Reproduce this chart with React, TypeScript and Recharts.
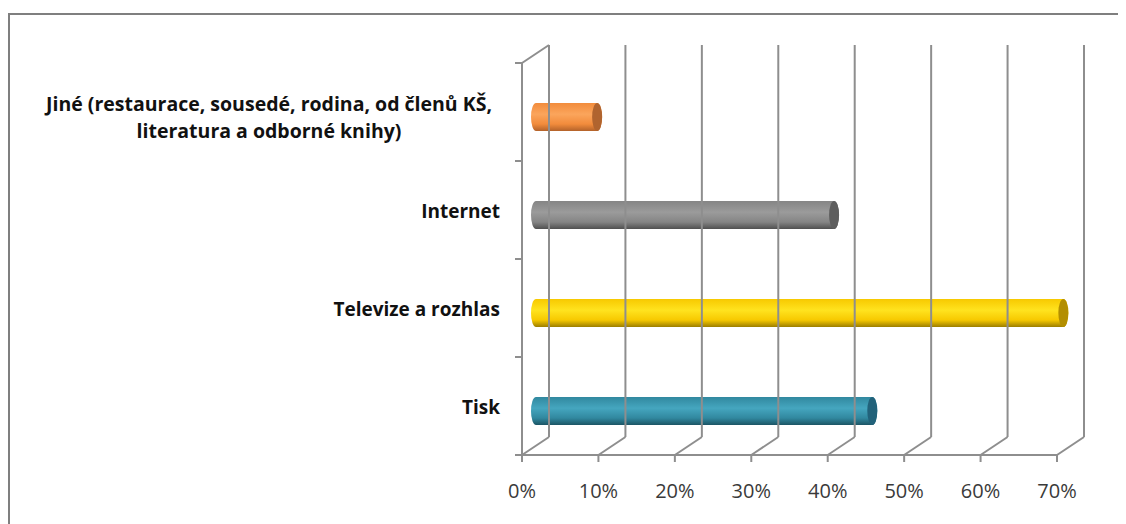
import React from "react";
import { BarChart, Bar, XAxis, YAxis } from "recharts";

const categories = [
  "Tisk",
  "Televize a rozhlas",
  "Internet",
  "Jiné (restaurace, sousedé, rodina, od členů KŠ, literatura a odborné knihy)",
];
const values = [44, 69, 39, 8];
const xTicks = [0, 10, 20, 30, 40, 50, 60, 70];

const barColors = [
  { light: "#45A6BF", mid: "#31889F", dark: "#1C5565", cap: "#22627A" },
  { light: "#FFE31F", mid: "#F7C900", dark: "#9C7E00", cap: "#B38E00" },
  { light: "#9B9B9B", mid: "#858585", dark: "#505050", cap: "#5E5E5E" },
  { light: "#FBA55C", mid: "#F28C3C", dark: "#B3622A", cap: "#B0642F" },
];

const data = categories.map((name, i) => ({ name, value: values[i] }));

const W = 1118;
const H = 516;
const margin = { top: 55, right: 69, left: 0, bottom: 19 };
const Y_AXIS_W = 514;
const X_AXIS_H = 50;
const PLOT_LEFT = margin.left + Y_AXIS_W;
const PLOT_TOP = margin.top;
const PLOT_BOTTOM = H - margin.bottom - X_AXIS_H;
const BAND = (PLOT_BOTTOM - PLOT_TOP) / categories.length;
const DX = 27;
const DY = -18;
const GRID = "#8E8E8E";
const FONT = "'Open Sans', sans-serif";

function wrap(label: string, max: number) {
  if (label.length <= max) return [label];
  const cut = label.lastIndexOf(", ", max);
  return [label.slice(0, cut + 1), label.slice(cut + 2)];
}

const XTick = (props: any) => {
  const { x, payload } = props;
  return (
    <g>
      {payload.value === 0 && (
        <>
          <line x1={PLOT_LEFT} y1={PLOT_TOP} x2={PLOT_LEFT + DX} y2={PLOT_TOP + DY} stroke={GRID} strokeWidth={2} />
          <line x1={PLOT_LEFT - 7} y1={PLOT_BOTTOM} x2={PLOT_LEFT} y2={PLOT_BOTTOM} stroke={GRID} strokeWidth={2} />
        </>
      )}
      <line x1={x} y1={PLOT_BOTTOM} x2={x} y2={PLOT_BOTTOM + 7} stroke={GRID} strokeWidth={2} />
      <line x1={x} y1={PLOT_BOTTOM} x2={x + DX} y2={PLOT_BOTTOM + DY} stroke={GRID} strokeWidth={2} />
      <line x1={x + DX} y1={PLOT_BOTTOM + DY} x2={x + DX} y2={PLOT_TOP + DY} stroke={GRID} strokeWidth={2} />
      <text x={x} y={PLOT_BOTTOM + 43} textAnchor="middle" fontFamily={FONT} fontSize={20} fill="#3A3A3A">
        {payload.value}%
      </text>
    </g>
  );
};

const YTick = (props: any) => {
  const { y, payload } = props;
  const lines = wrap(payload.value, 47);
  return (
    <g>
      <line x1={PLOT_LEFT - 7} y1={y - BAND / 2} x2={PLOT_LEFT} y2={y - BAND / 2} stroke={GRID} strokeWidth={2} />
      {lines.length === 1 ? (
        <text x={PLOT_LEFT - 22} y={y + 8} textAnchor="end" fontFamily={FONT} fontWeight={700} fontSize={19} fill="#111">
          {lines[0]}
        </text>
      ) : (
        <text x={PLOT_LEFT - 253} y={y - 1} textAnchor="middle" fontFamily={FONT} fontWeight={700} fontSize={19.5} fill="#111">
          {lines.map((l, i) => (
            <tspan key={i} x={PLOT_LEFT - 253} dy={i === 0 ? 0 : 27}>
              {l}
            </tspan>
          ))}
        </text>
      )}
    </g>
  );
};

const Cylinder = (props: any) => {
  const { x, y, width, height, index } = props;
  const c = barColors[index];
  const x0 = x + 14;
  const x1 = x0 + width;
  const top = y + 5;
  const bottom = top + height;
  const ry = height / 2;
  const rx = 5;
  const id = `cyl${index}`;
  return (
    <g>
      <defs>
        <linearGradient id={id} x1="0" y1="0" x2="0" y2="1">
          <stop offset="0%" stopColor={c.mid} />
          <stop offset="40%" stopColor={c.light} />
          <stop offset="75%" stopColor={c.mid} />
          <stop offset="100%" stopColor={c.dark} />
        </linearGradient>
      </defs>
      <path
        d={`M ${x0} ${top} L ${x1} ${top} A ${rx} ${ry} 0 0 1 ${x1} ${bottom} L ${x0} ${bottom} A ${rx} ${ry} 0 0 1 ${x0} ${top} Z`}
        fill={`url(#${id})`}
      />
      <ellipse cx={x1} cy={top + ry} rx={rx} ry={ry} fill={c.cap} />
    </g>
  );
};

export default function App() {
  return (
    <div style={{ position: "relative", width: W, height: H, overflow: "hidden" }}>
      <div
        style={{
          position: "absolute",
          left: 0,
          top: 5,
          width: 2000,
          height: 2000,
          borderTop: "2px solid #7F7F7F",
          borderLeft: "2px solid #7F7F7F",
        }}
      />
      <div style={{ position: "absolute", left: 0, top: 0 }}>
        <BarChart width={W} height={H} data={data} layout="vertical" margin={margin} barSize={28}>
          <XAxis
            type="number"
            domain={[0, 70]}
            ticks={xTicks}
            height={X_AXIS_H}
            axisLine={{ stroke: GRID, strokeWidth: 2 }}
            tickLine={false}
            tick={<XTick />}
            interval={0}
            zIndex={-10}
          />
          <YAxis
            type="category"
            dataKey="name"
            reversed
            width={Y_AXIS_W}
            axisLine={{ stroke: GRID, strokeWidth: 2 }}
            tickLine={false}
            tick={<YTick />}
            interval={0}
            zIndex={-10}
          />
          <Bar dataKey="value" isAnimationActive={false} shape={<Cylinder />} />
        </BarChart>
      </div>
    </div>
  );
}
